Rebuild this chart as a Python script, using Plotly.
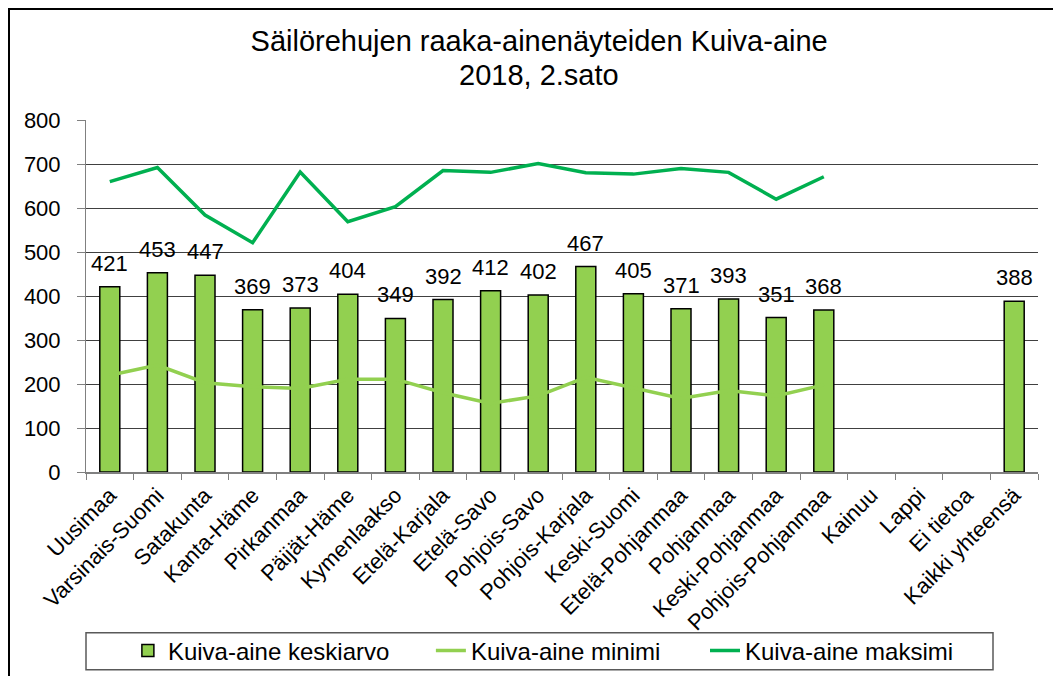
import plotly.graph_objects as go

categories = ["Uusimaa", "Varsinais-Suomi", "Satakunta", "Kanta-Häme", "Pirkanmaa",
              "Päijät-Häme", "Kymenlaakso", "Etelä-Karjala", "Etelä-Savo", "Pohjois-Savo",
              "Pohjois-Karjala", "Keski-Suomi", "Etelä-Pohjanmaa", "Pohjanmaa",
              "Keski-Pohjanmaa", "Pohjois-Pohjanmaa", "Kainuu", "Lappi", "Ei tietoa",
              "Kaikki yhteensä"]
keskiarvo = [421, 453, 447, 369, 373, 404, 349, 392, 412, 402, 467, 405, 371, 393, 351, 368,
             None, None, None, 388]
minimi = [220, 243, 203, 194, 190, 211, 211, 180, 156, 173, 215, 190, 167, 185, 173, 198,
          None, None, None, None]
maksimi = [660, 692, 584, 521, 682, 569, 603, 685, 681, 701, 680, 677, 690, 681, 620, 671,
           None, None, None, None]
title_line1 = "Säilörehujen raaka-ainenäyteiden Kuiva-aine"
title_line2 = "2018, 2.sato"

FONT = "Liberation Sans, Arial, sans-serif"

fig = go.Figure()
fig.add_trace(go.Bar(
    x=categories, y=keskiarvo, name="Kuiva-aine keskiarvo",
    marker=dict(color="#92D050", line=dict(color="#000000", width=1.5)),
    legend="legend",
))
fig.add_trace(go.Scatter(
    x=categories, y=minimi, name="Kuiva-aine minimi", mode="lines",
    line=dict(color="#92D050", width=3.5), connectgaps=False,
    legend="legend",
))
fig.add_trace(go.Scatter(
    x=categories, y=maksimi, name="Kuiva-aine maksimi", mode="lines",
    line=dict(color="#00B050", width=3.5), connectgaps=False,
    legend="legend2",
))

annotations = []
for c, v in zip(categories, keskiarvo):
    if v is None:
        continue
    annotations.append(dict(x=c, y=v, text=str(v), showarrow=False, xref="x", yref="y",
                            yanchor="bottom", yshift=9,
                            font=dict(family=FONT, size=22, color="#000000")))
annotations.append(dict(x=(539 - 86) / 952, y=(472 - 74) / 352.5, xref="paper", yref="paper",
                        text=title_line2, showarrow=False, xanchor="center", yanchor="middle",
                        font=dict(family=FONT, size=29, color="#000000")))

legend_common = dict(orientation="h", xanchor="left", y=-0.508, yanchor="middle",
                     xref="paper", yref="paper", bgcolor="rgba(0,0,0,0)", borderwidth=0,
                     font=dict(family=FONT, size=24, color="#000000"),
                     traceorder="normal")

fig.update_layout(
    width=1053, height=676,
    margin=dict(l=86, r=15, t=119.5, b=204, pad=0, autoexpand=False),
    paper_bgcolor="#FFFFFF", plot_bgcolor="#FFFFFF",
    font=dict(family=FONT, size=22, color="#000000"),
    title=dict(text=title_line1,
               x=0.512, xanchor="center", xref="container",
               y=1 - 40.5 / 676, yanchor="middle", yref="container",
               font=dict(family=FONT, size=29, color="#000000")),
    bargap=0.58,
    showlegend=True,
    legend=dict(x=0.044, entrywidth=258, entrywidthmode="pixels", **legend_common),
    legend2=dict(x=(705 - 86) / 952, **legend_common),
    annotations=annotations,
    shapes=[
        dict(type="rect", xref="paper", yref="paper", x0=0, x1=(993 - 86) / 952,
             y0=(472 - 670) / 352.5, y1=(472 - 633) / 352.5,
             line=dict(color="#595959", width=1.5), fillcolor="rgba(0,0,0,0)"),
        dict(type="rect", xref="paper", yref="paper", x0=(9 - 86) / 952, x1=1.2,
             y0=-0.8, y1=(472 - 8.3) / 352.5,
             line=dict(color="#000000", width=2), fillcolor="rgba(0,0,0,0)"),
    ],
)

fig.update_xaxes(
    type="category", showline=True, linecolor="#808080", linewidth=1.5,
    ticks="outside", tickson="boundaries", ticklen=6, tickcolor="#808080",
    tickangle=-45, tickfont=dict(family=FONT, size=22, color="#000000"),
    showgrid=False, zeroline=False, automargin=False,
)
fig.update_yaxes(
    range=[0, 800], dtick=100, showline=True, linecolor="#808080", linewidth=1,
    ticks="outside", ticklen=8, tickcolor="#808080", ticklabelstandoff=12,
    tickfont=dict(family=FONT, size=22, color="#000000"),
    showgrid=True, gridcolor="#404040", gridwidth=1, zeroline=False, automargin=False,
)

fig.write_html("out.html",
               config={"displayModeBar": False},
               post_script="document.body.style.margin='0';document.body.style.padding='0';")
